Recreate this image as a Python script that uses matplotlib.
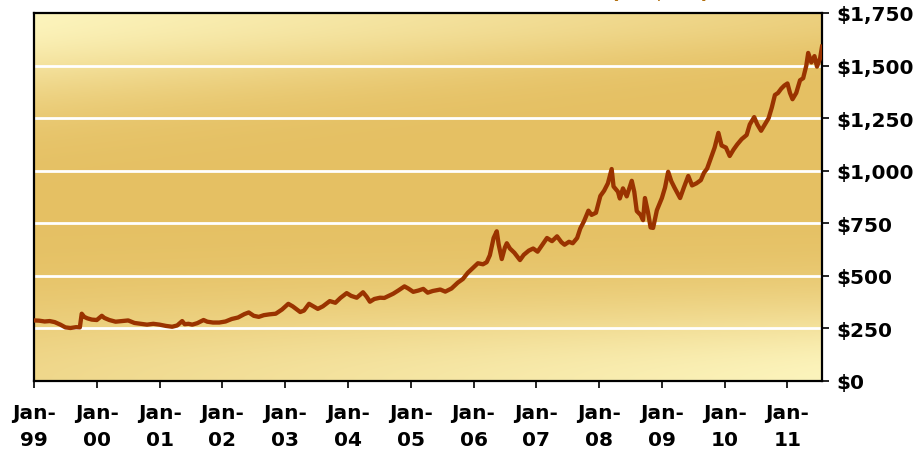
import numpy as np
import matplotlib
matplotlib.use("Agg")
import matplotlib.pyplot as plt
from matplotlib.colors import to_rgb

# Gold price, US$/oz, sampled roughly twice a month (x = decimal year)
years = [
    1999.00, 1999.08, 1999.17, 1999.25, 1999.33, 1999.42, 1999.50, 1999.58, 1999.67, 1999.73,
    1999.76, 1999.80, 1999.85, 1999.92, 2000.00, 2000.08, 2000.12, 2000.20, 2000.30, 2000.40,
    2000.50, 2000.60, 2000.70, 2000.80, 2000.90, 2001.00, 2001.10, 2001.20, 2001.28, 2001.36,
    2001.40, 2001.46, 2001.52, 2001.60, 2001.70, 2001.76, 2001.85, 2001.95, 2002.05, 2002.15,
    2002.25, 2002.35, 2002.42, 2002.50, 2002.58, 2002.66, 2002.75, 2002.85, 2002.95, 2003.05,
    2003.12, 2003.24, 2003.30, 2003.38, 2003.45, 2003.52, 2003.60, 2003.71, 2003.80, 2003.88,
    2003.98, 2004.05, 2004.14, 2004.24, 2004.30, 2004.35, 2004.42, 2004.51, 2004.58, 2004.65,
    2004.72, 2004.80, 2004.90, 2004.96, 2005.04, 2005.12, 2005.20, 2005.27, 2005.35, 2005.47,
    2005.55, 2005.65, 2005.75, 2005.83, 2005.91, 2006.00, 2006.07, 2006.15, 2006.21, 2006.26,
    2006.32, 2006.37, 2006.40, 2006.45, 2006.50, 2006.53, 2006.58, 2006.65, 2006.74, 2006.80,
    2006.88, 2006.95, 2007.02, 2007.10, 2007.17, 2007.25, 2007.33, 2007.40, 2007.45, 2007.52,
    2007.58, 2007.65, 2007.70, 2007.76, 2007.83, 2007.88, 2007.95, 2008.02, 2008.08, 2008.14,
    2008.20, 2008.23, 2008.30, 2008.33, 2008.38, 2008.44, 2008.52, 2008.56, 2008.60, 2008.66,
    2008.70, 2008.73, 2008.78, 2008.82, 2008.86, 2008.92, 2009.00, 2009.05, 2009.10, 2009.15,
    2009.20, 2009.29, 2009.35, 2009.42, 2009.48, 2009.55, 2009.62, 2009.67, 2009.72, 2009.78,
    2009.84, 2009.90, 2009.95, 2010.02, 2010.08, 2010.14, 2010.20, 2010.27, 2010.35, 2010.40,
    2010.47, 2010.52, 2010.58, 2010.64, 2010.70, 2010.75, 2010.80, 2010.85, 2010.90, 2010.95,
    2011.00, 2011.04, 2011.08, 2011.14, 2011.20, 2011.25, 2011.30, 2011.33, 2011.38, 2011.43,
    2011.47, 2011.52, 2011.55,
]
price = [
    288, 287, 283, 285, 280, 268, 255, 252, 256, 255,
    320, 305, 298, 292, 290, 310, 300, 290, 282, 285,
    288, 276, 272, 268, 272, 268, 262, 258, 264, 285,
    270, 272, 268, 275, 290, 282, 278, 278, 283, 295,
    302, 318, 326, 310, 305, 313, 317, 320, 340, 367,
    355, 328, 335, 367, 355, 343, 355, 380, 372, 395,
    418, 405, 396, 422, 400, 377, 390, 396, 395, 405,
    415, 430, 450, 440, 424, 430, 438, 420, 428, 435,
    425, 440, 468, 485, 515, 540, 560, 555, 565, 598,
    680, 712, 650, 580, 635, 655, 630, 610, 575, 600,
    620, 630, 615, 650, 680, 665, 688, 660, 648, 662,
    655, 680, 725, 760, 810, 790, 800, 880, 905, 940,
    1008, 925, 900, 868, 916, 878, 952, 900, 808, 790,
    765, 870, 800, 730, 728, 812, 870, 920, 995, 950,
    920, 870, 920, 975, 930, 940, 955, 990, 1010, 1060,
    1110, 1180, 1120, 1110, 1070, 1100, 1125, 1150, 1170, 1220,
    1255, 1220, 1190, 1220, 1250, 1300, 1360, 1370, 1390, 1405,
    1415, 1370, 1340, 1370, 1430, 1440, 1500, 1560, 1515, 1545,
    1495, 1535, 1590,
]

tick_years = list(range(1999, 2012))
x_labels = [f"Jan-\n{y % 100:02d}" for y in tick_years]
y_ticks = [0, 250, 500, 750, 1000, 1250, 1500, 1750]
y_labels = [f"${v:,}" for v in y_ticks]

fig = plt.figure(figsize=(9.14, 4.52), dpi=100)
ax = fig.add_axes([34 / 914, 1 - 382 / 452, (822 - 34) / 914, (382 - 14) / 452])

x0, x1 = years[0], years[-1]
ax.set_xlim(x0, x1)
ax.set_ylim(0, 1750)

# golden gradient backdrop: light at the top-left and bottom-right, deep gold in between
n = 300
u = np.linspace(0, 1, n)[None, :]
v = np.linspace(0, 1, n)[:, None]          # 0 = bottom, 1 = top
top_glow = np.exp(-((1 - v) / (0.10 + 0.12 * (1 - u))) ** 2) * (1.0 - 0.7 * u)
bot_glow = np.exp(-(v / 0.22) ** 2) * (0.45 + 0.55 * u)
w = np.clip(np.maximum(top_glow, bot_glow), 0, 1)[..., None]
dark = np.array(to_rgb("#e5c063"))
light = np.array(to_rgb("#fcf4bc"))
img = dark * (1 - w) + light * w
ax.imshow(img, origin="lower", extent=(x0, x1, 0, 1750), aspect="auto",
          interpolation="bilinear", zorder=0)

for yv in y_ticks[1:-1]:
    ax.axhline(yv, color="white", lw=2.0, zorder=1)

ax.plot(years, price, color="#9a3300", lw=3.1, solid_joinstyle="round", zorder=3)

ax.yaxis.tick_right()
ax.set_yticks(y_ticks)
ax.set_yticklabels(y_labels)
ax.set_xticks(tick_years)
ax.set_xticklabels(x_labels, linespacing=1.5)

for sp in ax.spines.values():
    sp.set_color("black")
    sp.set_linewidth(1.6)
ax.tick_params(axis="both", direction="out", length=5, width=1.2, color="black",
               labelcolor="black")
ax.tick_params(axis="y", pad=5, labelsize=14.5)
ax.tick_params(axis="x", pad=11, labelsize=14.5)
for lab in ax.get_xticklabels() + ax.get_yticklabels():
    lab.set_fontweight("bold")
    lab.set_family("DejaVu Sans")

fig.text(710 / 914, 1 + 1.5 / 452, "Gold Price (US$/oz)", ha="right", va="baseline",
         fontsize=15, fontweight="bold", color="#b3700f")

fig.savefig("out.png", dpi=100, facecolor="white")
